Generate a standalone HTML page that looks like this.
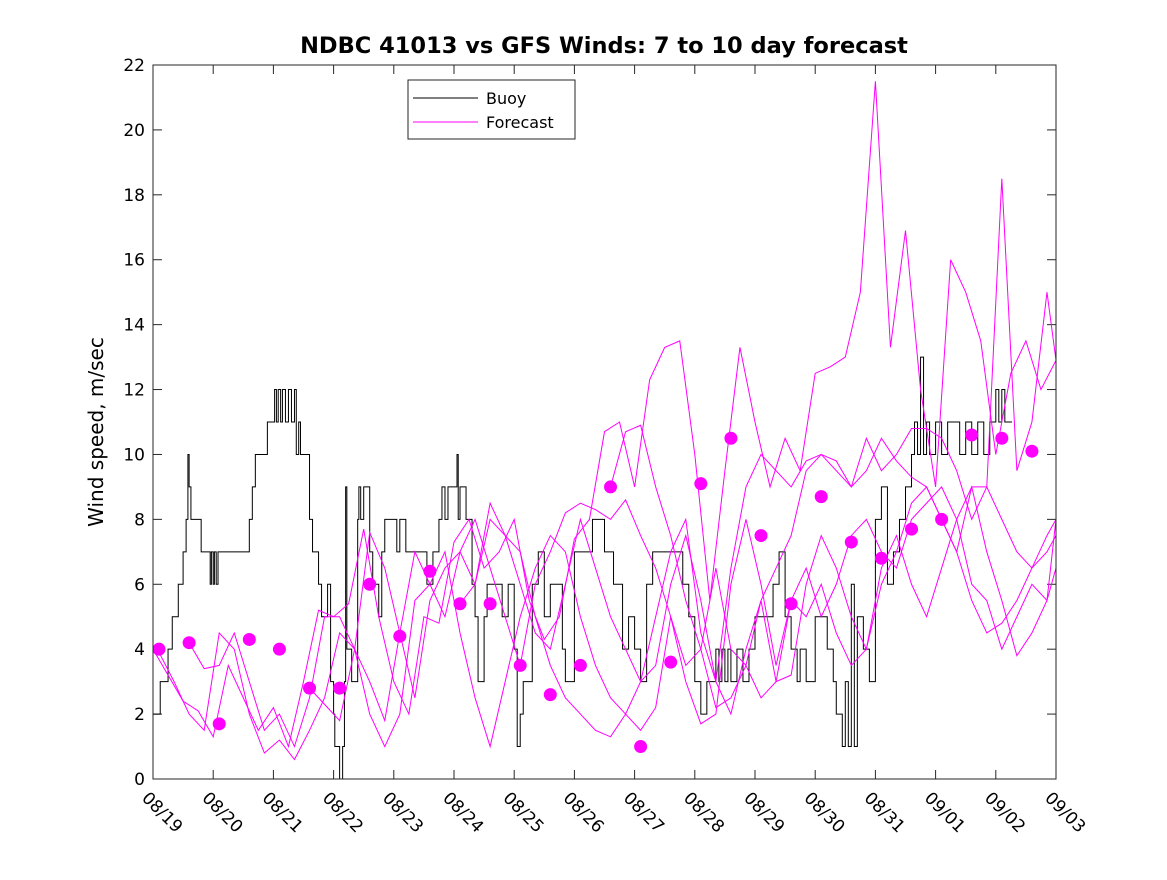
<!DOCTYPE html>
<html><head><meta charset="utf-8"><style>
body{margin:0;background:#fff}
svg{font-family:"DejaVu Sans","Liberation Sans",sans-serif}
</style></head><body>
<svg id="chart" width="1167" height="875" viewBox="0 0 1167 875">
<rect width="1167" height="875" fill="#fff"/>
<text x="604" y="53" text-anchor="middle" font-size="22.5" font-weight="bold">NDBC 41013 vs GFS Winds: 7 to 10 day forecast</text>
<text transform="translate(103,432) rotate(-90)" text-anchor="middle" font-size="20">Wind speed, m/sec</text>
<g id="grid"></g>
<g id="series"></g>
<rect x="153" y="65" width="903" height="714" fill="none" stroke="#262626" stroke-width="1"/>
<g>
<rect x="408" y="80" width="167" height="59" fill="#fff" stroke="#262626"/>
<line x1="413" y1="98" x2="478" y2="98" stroke="#000"/>
<text x="486" y="104" font-size="16">Buoy</text>
<line x1="413" y1="122" x2="478" y2="122" stroke="#f0f"/>
<text x="486" y="128" font-size="16">Forecast</text>
</g>
</svg>
<script>
const xTickLabels=["08/19","08/20","08/21","08/22","08/23","08/24","08/25","08/26","08/27","08/28","08/29","08/30","08/31","09/01","09/02","09/03"];
const yTicks=[0,2,4,6,8,10,12,14,16,18,20,22];
const dotDays=[0.1,0.6,1.1,1.6,2.1,2.6,3.1,3.6,4.1,4.6,5.1,5.6,6.1,6.6,7.1,7.6,8.1,8.6,9.1,9.6,10.1,10.6,11.1,11.6,12.1,12.6,13.1,13.6,14.1,14.6];
const dotValues=[4.0,4.2,1.7,4.3,4.0,2.8,2.8,6.0,4.4,6.4,5.4,5.4,3.5,2.6,3.5,9.0,1.0,3.6,9.1,10.5,7.5,5.4,8.7,7.3,6.8,7.7,8.0,10.6,10.5,10.1];
const buoyDays=[0,0.12,0.25,0.32,0.42,0.5,0.55,0.58,0.6,0.63,0.7,0.8,0.9,0.95,0.97,1.0,1.02,1.05,1.08,1.1,1.3,1.6,1.65,1.7,1.75,1.9,2.0,2.02,2.05,2.08,2.12,2.15,2.2,2.25,2.3,2.35,2.38,2.42,2.45,2.5,2.6,2.65,2.75,2.8,2.9,2.95,3.0,3.02,3.1,3.15,3.18,3.2,3.22,3.3,3.4,3.42,3.45,3.5,3.6,3.65,3.75,3.8,3.85,4.0,4.05,4.1,4.2,4.5,4.55,4.65,4.75,4.8,4.85,4.9,5.0,5.05,5.07,5.1,5.2,5.3,5.35,5.4,5.5,5.55,5.6,5.8,5.9,6.0,6.05,6.1,6.15,6.3,6.4,6.5,6.6,6.8,6.85,7.0,7.2,7.3,7.5,7.6,7.65,7.8,7.9,8.0,8.1,8.2,8.3,8.7,8.8,8.9,9.0,9.1,9.2,9.3,9.35,9.4,9.45,9.5,9.55,9.6,9.7,9.8,9.9,10.0,10.3,10.4,10.5,10.6,10.7,10.75,10.85,11.0,11.2,11.3,11.35,11.45,11.5,11.55,11.6,11.65,11.7,11.8,11.9,12.0,12.1,12.2,12.3,12.4,12.5,12.6,12.65,12.7,12.75,12.8,12.85,12.9,13.0,13.1,13.2,13.4,13.5,13.6,13.7,13.8,13.9,14.0,14.05,14.1,14.15,14.2,14.27];
const buoyValues=[2,3,4,5,6,7,8,10,9,8,8,7,7,6,7,6,7,6,7,7,7,8,9,10,10,11,11,12,11,12,11,12,11,12,11,12,10,11,10,10,8,7,6,5,6,3,2,1,0,1,3,9,4,3,8,9,8,9,7,6,5,7,8,8,7,8,7,7,6,7,8,9,8,9,9,10,8,9,8,6,5,3,5,6,6,5,6,4,1,2,3,6,7,5,6,4,3,7,7,8,7,7,6,4,5,4,3,6,7,7,6,5,3,2,3,3,4,3,4,3,4,3,4,3,4,5,6,7,5,4,3,4,3,5,4,3,2,1,3,1,6,1,5,4,3,8,9,6,7,8,9,10,11,10,13,10,11,10,11,10,11,10,11,10,11,10,11,12,11,12,11,11];
const fcStep=0.25;
const fcStart=[0,0.1,0.6,2.6,5.1,7.6];
const fcA=[4,3.2,2.4,2.1,1.3,3.5,2.5,1.5,2.2,1.0,3.0,5.2,5.0,5.4,7.7,5.0,3.0,2.0,5.0,4.8,7.3,8.0,6.5,7.0,8.0,5.5,4.3,5.0,7.4,8.0,10.7,11.0,9.0,12.3,13.3,13.5,10.0,5.5,9.5,13.3,11.0,9.0,10.5,9.5,12.5,12.7,13.0,15.0,21.5,13.3,16.9,12.0,9.0,16.0,15.0,13.5,10.0,12.5,13.5,12.0,12.9];
const fcB=[3.9,3.0,2.0,1.5,4.5,4.0,2.0,0.8,1.2,0.6,1.5,2.5,4.5,4.0,3.0,1.8,4.5,2.5,5.5,6.5,7.0,6.0,8.5,7.5,6.0,4.5,4.0,6.0,8.0,6.5,5.0,4.0,3.0,3.5,6.0,7.5,5.5,3.0,6.5,9.0,10.0,9.5,9.0,9.8,10.0,9.5,9.0,10.5,9.5,10.0,10.8,10.8,10.5,9.5,8.0,9.0,18.5,9.5,11.0,15.0,12.9];
const fcC=[4.2,3.4,3.5,4.5,3.0,1.5,2.0,1.0,2.5,5.0,5.0,4.0,2.0,1.0,2.0,5.5,6.0,7.0,4.5,2.5,1.0,3.0,5.0,6.5,7.5,7.0,5.0,3.5,2.5,2.0,1.5,2.2,5.0,3.0,1.7,2.0,6.0,8.0,6.0,3.5,5.5,6.5,5.0,6.0,7.5,8.0,7.0,6.5,8.0,8.5,9.0,8.0,6.0,5.5,4.0,5.0,6.0,5.5,8.0,9.5,12.5];
const fcD=[2.8,2.3,1.8,4.0,7.6,6.5,4.5,7.0,6.0,5.0,7.0,8.0,6.5,5.0,3.5,6.0,7.0,8.2,8.5,8.3,8.0,8.6,7.5,6.5,5.0,3.5,4.0,6.5,4.0,3.5,2.5,3.0,5.5,5.0,6.0,4.5,3.5,4.0,6.5,7.5,6.0,5.0,6.5,8.0,9.0,7.0,5.5,3.8,4.5,5.5,6.5,5.0,3.5,5.5,6.8,7.5,8.5,9.0,10.0,11.0,11.5];
const fcE=[5.4,6.0,8.0,7.5,7.0,5.0,3.5,2.5,2.0,1.5,1.3,2.0,3.0,5.0,7.0,8.0,4.5,3.0,2.0,4.0,5.5,3.0,3.2,6.0,7.5,6.5,5.0,4.0,6.0,7.0,8.5,9.0,8.0,7.0,9.0,9.0,8.0,7.0,6.5,7.5,8.0,9.0,10.0,7.5,6.0,4.5,5.0,7.0,8.5,9.0,10.0,11.0,11.5,12.0,11.0];
const fcF=[9.0,10.7,10.9,9.0,7.5,5.5,4.0,2.2,2.5,3.5,5.5,6.5,7.5,9.5,10.0,9.8,9.0,9.5,10.5,9.8,9.3,9.0,8.0,7.0,5.5,4.5,4.8,5.5,6.5,7.0,7.5,7.2,9.0,10.0,9.2,8.5,9.0,8.2,9.0,10.0,9.0,8.5,7.8,7.8,7.5,8.5];
const forecasts=[fcA,fcB,fcC,fcD,fcE,fcF];

const NS="http://www.w3.org/2000/svg";
const X0=153,X1=1056,Y0=779,Y1=65;
const xs=d=>X0+(d-0)*(X1-X0)/15;
const ys=v=>Y0-(v-0)*(Y0-Y1)/22;
const grid=document.getElementById('grid');
const ser=document.getElementById('series');
function mk(tag,attrs,parent){const e=document.createElementNS(NS,tag);for(const k in attrs)e.setAttribute(k,attrs[k]);parent.appendChild(e);return e;}

yTicks.forEach(v=>{
  const y=ys(v);
  const t1=mk('line',{x1:X0,x2:X0+9,y1:y,y2:y,stroke:'#262626'},grid);
  
  
  const t2=mk('line',{x1:X1-9,x2:X1,y1:y,y2:y,stroke:'#262626'},grid);
  
  
  const tx=mk('text',{x:X0-8,y:y+6,'text-anchor':'end','font-size':'17'},grid);
  tx.textContent=v;
  
  
});
xTickLabels.forEach((lab,i)=>{
  const x=xs(i);
  const t1=mk('line',{x1:x,x2:x,y1:Y0,y2:Y0-9,stroke:'#262626'},grid);
  
  
  const t2=mk('line',{x1:x,x2:x,y1:Y1,y2:Y1+9,stroke:'#262626'},grid);
  
  
  const tx=mk('text',{x:0,y:0,'font-size':'17',transform:`translate(${x-12},${Y0+20}) rotate(45)`},grid);
  tx.textContent=lab;
  
  
});

let d='';
buoyDays.forEach((t,i)=>{
  const x=xs(t),y=ys(buoyValues[i]);
  if(i===0)d+=`M${x},${y}`;else d+=`H${x}V${y}`;
});
d+=`H${xs(buoyDays[buoyDays.length-1]+0.02)}`;
const bp=mk('path',{d:d,fill:'none',stroke:'#000','stroke-width':1},ser);



forecasts.forEach((arr,k)=>{
  const pts=arr.map((v,i)=>`${xs(Math.min(15,fcStart[k]+i*fcStep))},${ys(v)}`).join(' ');
  const pl=mk('polyline',{points:pts,fill:'none',stroke:'#f0f','stroke-width':1},ser);
  
  
});
dotDays.forEach((t,i)=>{
  const c=mk('circle',{cx:xs(t),cy:ys(dotValues[i]),r:6.5,fill:'#f0f'},ser);
  
  
});
</script>
</body></html>
